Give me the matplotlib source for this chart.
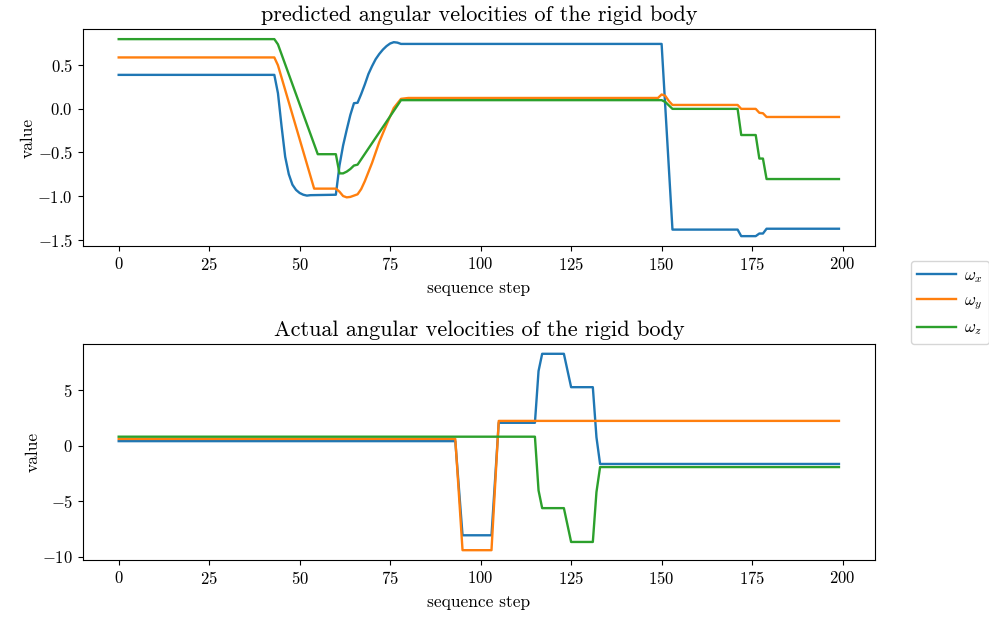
import matplotlib
matplotlib.use("Agg")
import matplotlib.pyplot as plt

plt.rcParams["font.family"] = "serif"
plt.rcParams["font.serif"] = ["cmr10", "DejaVu Serif"]
plt.rcParams["mathtext.fontset"] = "cm"
plt.rcParams["axes.formatter.use_mathtext"] = True
plt.rcParams["axes.unicode_minus"] = True

# Predicted angular velocities (breakpoints of each piecewise trace)
pred_x_step = [0, 43, 44, 45, 46, 47, 48, 49, 50, 51, 52, 53, 60, 61, 62, 63, 64, 65, 66,
               67, 68, 69, 70, 71, 72, 73, 74, 75, 76, 77, 78, 150, 153, 171, 172, 176,
               177, 178, 179, 199]
pred_x_val = [0.39, 0.39, 0.18, -0.2, -0.55, -0.75, -0.87, -0.93, -0.965, -0.985, -0.995,
              -0.99, -0.985, -0.65, -0.42, -0.24, -0.07, 0.065, 0.07, 0.17, 0.28, 0.4, 0.49,
              0.57, 0.63, 0.68, 0.72, 0.75, 0.765, 0.76, 0.745, 0.745, -1.385, -1.385,
              -1.46, -1.46, -1.43, -1.43, -1.375, -1.375]

pred_y_step = [0, 43, 44, 54, 60, 61, 62, 63, 64, 65, 66, 67, 68, 70, 72, 74, 76, 78, 80,
               149, 150, 151, 152, 153, 171, 172, 176, 177, 178, 179, 199]
pred_y_val = [0.59, 0.59, 0.5, -0.915, -0.915, -0.95, -1.0, -1.015, -1.01, -0.995, -0.98,
              -0.92, -0.83, -0.62, -0.38, -0.18, 0.01, 0.115, 0.125, 0.125, 0.165, 0.15,
              0.09, 0.045, 0.045, 0.0, 0.0, -0.045, -0.05, -0.093, -0.093]

pred_z_step = [0, 43, 44, 55, 60, 61, 62, 63, 64, 65, 66, 78, 150, 151, 153, 171, 172,
               176, 177, 178, 179, 199]
pred_z_val = [0.8, 0.8, 0.74, -0.52, -0.52, -0.74, -0.74, -0.72, -0.69, -0.65, -0.64,
              0.1, 0.1, 0.08, 0.0, 0.0, -0.3, -0.3, -0.57, -0.57, -0.805, -0.805]

# Actual angular velocities
act_x_step = [0, 93, 95, 103, 105, 115, 116, 117, 123, 125, 131, 132, 133, 199]
act_x_val = [0.4, 0.4, -8.06, -8.06, 2.05, 2.05, 6.7, 8.25, 8.25, 5.25, 5.25, 0.75,
             -1.65, -1.65]

act_y_step = [0, 93, 95, 103, 105, 199]
act_y_val = [0.6, 0.6, -9.4, -9.4, 2.22, 2.22]

act_z_step = [0, 115, 116, 117, 123, 125, 131, 132, 133, 199]
act_z_val = [0.8, 0.8, -4.03, -5.62, -5.62, -8.66, -8.66, -4.18, -1.93, -1.93]

labels = [r"$\omega_x$", r"$\omega_y$", r"$\omega_z$"]
colors = ["#1f77b4", "#ff7f0e", "#2ca02c"]

fig = plt.figure(figsize=(9.89, 6.19), dpi=100)
ax1 = fig.add_axes([0.0836, 0.6026, 0.8011, 0.3501])
ax2 = fig.add_axes([0.0836, 0.0953, 0.8011, 0.3490])

pred = [(pred_x_step, pred_x_val), (pred_y_step, pred_y_val), (pred_z_step, pred_z_val)]
act = [(act_x_step, act_x_val), (act_y_step, act_y_val), (act_z_step, act_z_val)]

handles = []
for (xs, ys), lab, c in zip(pred, labels, colors):
    h, = ax1.plot(xs, ys, color=c, lw=1.7, label=lab)
    handles.append(h)
for (xs, ys), lab, c in zip(act, labels, colors):
    ax2.plot(xs, ys, color=c, lw=1.7, label=lab)

for ax in (ax1, ax2):
    ax.set_xticks([0, 25, 50, 75, 100, 125, 150, 175, 200])
    ax.set_xlabel("sequence step", fontsize=12.5, labelpad=6)
    ax.set_ylabel("value", fontsize=12.5, labelpad=1)
    ax.tick_params(labelsize=12)

ax1.set_yticks([-1.5, -1.0, -0.5, 0.0, 0.5])
ax2.set_yticks([-10, -5, 0, 5])
ax1.set_title("predicted angular velocities of the rigid body", fontsize=16)
ax2.set_title("Actual angular velocities of the rigid body", fontsize=16)

fig.legend(handles, labels, loc="upper left", bbox_to_anchor=(0.9208, 0.5788),
           borderaxespad=0, fontsize=12, handlelength=2.3, handletextpad=0.5)

fig.savefig("out.png", dpi=100)
